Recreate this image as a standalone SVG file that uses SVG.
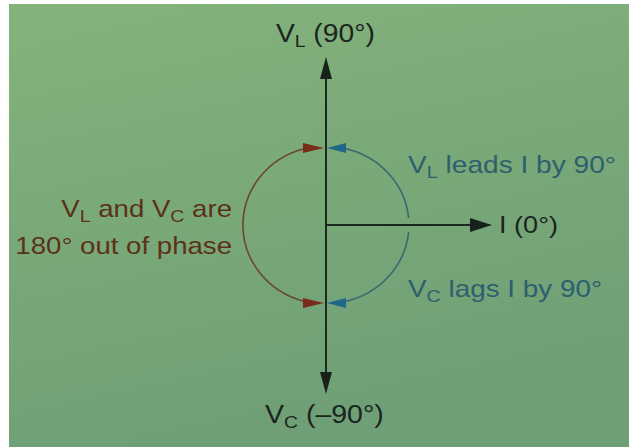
<svg xmlns="http://www.w3.org/2000/svg" width="629" height="447" viewBox="0 0 629 447">
  <defs>
    <linearGradient id="bg" x1="0" y1="0" x2="0.3" y2="1">
      <stop offset="0" stop-color="#84b37b"/>
      <stop offset="1" stop-color="#6f9f76"/>
    </linearGradient>
    <style>
      text { font-family: "Liberation Sans", Arial, sans-serif; font-size: 24px; }
      .axis { stroke: #1b2a1e; stroke-width: 2; fill: none; }
      .axhead { fill: #16221a; }
      .brownArc { stroke: #6e4630; stroke-width: 1.6; fill: none; }
      .blueArc { stroke: #3b6770; stroke-width: 1.6; fill: none; }
      .brownHead { fill: #7a2c1a; }
      .blueHead { fill: #1f6888; }
      .dark { fill: #1a2520; }
      .brown { fill: #5c3119; }
      .blue { fill: #2d5f6e; }
      .sub { font-size: 17px; }
    </style>
  </defs>
  <rect x="0" y="0" width="629" height="447" fill="#ffffff"/>
  <rect x="9" y="4" width="620" height="443" fill="url(#bg)"/>

  <g id="connectors">
    <line class="axis" x1="326" y1="75" x2="326" y2="376"/>
    <polygon class="axhead" points="326,57 320,79 332,79"/>
    <polygon class="axhead" points="326,394 320,372 332,372"/>
    <line class="axis" x1="326" y1="225" x2="472" y2="225"/>
    <polygon class="axhead" points="492,225 470,218 470,232"/>
    <path class="brownArc" d="M304,148.8 A83,79 0 0,0 304,301.2"/>
    <polygon class="brownHead" points="303,143 324,148 303,153"/>
    <polygon class="brownHead" points="303,298 324,303 303,308"/>
    <path class="blueArc" d="M345,148.5 A83,79 0 0,1 408.6,218"/>
    <path class="blueArc" d="M408.6,232 A83,79 0 0,1 345,301.5"/>
    <polygon class="blueHead" points="346,143 327,148 346,153"/>
    <polygon class="blueHead" points="346,298 327,303 346,308"/>
  </g>

  <g id="node-VL">
    <text class="dark" transform="translate(276,42) scale(1.13,1)" style="font-size:25px">V<tspan class="sub" dy="5">L</tspan><tspan dy="-5"> (90°)</tspan></text>
  </g>
  <g id="node-VC">
    <text class="dark" transform="translate(265,423) scale(1.14,1)" style="font-size:25px">V<tspan class="sub" dy="5">C</tspan><tspan dy="-5"> (–90°)</tspan></text>
  </g>
  <g id="node-I">
    <text class="dark" transform="translate(499,233) scale(1.13,1)">I (0°)</text>
  </g>
  <g id="label-phase">
    <text class="brown" text-anchor="end" transform="translate(232,217) scale(1.15,1)">V<tspan class="sub" dy="5">L</tspan><tspan dy="-5"> and V</tspan><tspan class="sub" dy="5">C</tspan><tspan dy="-5"> are</tspan></text>
    <text class="brown" text-anchor="end" transform="translate(232,254) scale(1.15,1)">180° out of phase</text>
  </g>
  <g id="label-leads">
    <text class="blue" transform="translate(408,173) scale(1.17,1)">V<tspan class="sub" dy="5">L</tspan><tspan dy="-5"> leads I by 90°</tspan></text>
  </g>
  <g id="label-lags">
    <text class="blue" transform="translate(408,297) scale(1.16,1)">V<tspan class="sub" dy="5">C</tspan><tspan dy="-5"> lags I by 90°</tspan></text>
  </g>
</svg>
